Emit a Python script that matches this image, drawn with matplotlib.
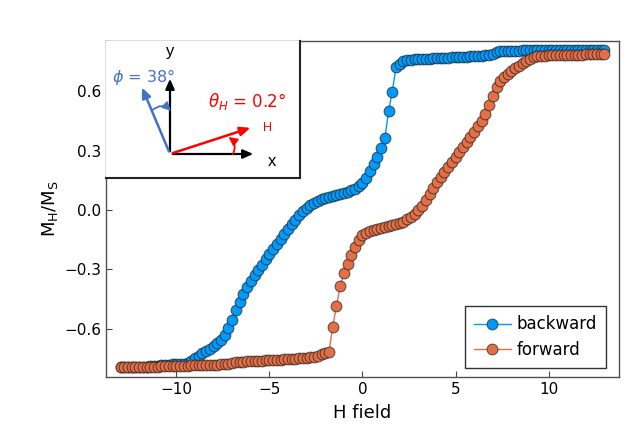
import numpy as np
import matplotlib
matplotlib.use("Agg")
import matplotlib.pyplot as plt
from matplotlib.patches import FancyArrowPatch

# field sweep, -13 .. 13 in steps of 0.2
H = np.round(np.linspace(-13, 13, 131), 1)

# backward sweep (M_H/M_s)
backward = [
    -0.795, -0.795, -0.794, -0.794, -0.793, -0.792, -0.791, -0.790, -0.789, -0.787,
    -0.786, -0.784, -0.782, -0.780, -0.779, -0.778, -0.777, -0.775, -0.770, -0.762,
    -0.748, -0.735, -0.722, -0.712, -0.700, -0.686, -0.672, -0.655, -0.630, -0.595,
    -0.555, -0.505, -0.465, -0.425, -0.390, -0.357, -0.330, -0.302, -0.275, -0.247,
    -0.220, -0.195, -0.170, -0.145, -0.120, -0.095, -0.070, -0.048, -0.025, -0.005,
    0.012, 0.026, 0.038, 0.048, 0.055, 0.061, 0.066, 0.071, 0.076, 0.081,
    0.087, 0.093, 0.100, 0.108, 0.120, 0.138, 0.163, 0.195, 0.230, 0.270,
    0.312, 0.362, 0.500, 0.598, 0.722, 0.735, 0.750, 0.757, 0.760, 0.761,
    0.762, 0.763, 0.764, 0.765, 0.766, 0.767, 0.768, 0.769, 0.770, 0.771,
    0.772, 0.773, 0.774, 0.775, 0.776, 0.777, 0.778, 0.779, 0.781, 0.783,
    0.787, 0.797, 0.801, 0.803, 0.804, 0.805, 0.805, 0.805, 0.806, 0.806,
    0.806, 0.806, 0.807, 0.807, 0.807, 0.807, 0.808, 0.808, 0.808, 0.808,
    0.808, 0.809, 0.809, 0.809, 0.809, 0.809, 0.810, 0.810, 0.810, 0.810,
    0.810,
]

# forward sweep (M_H/M_s)
forward = [
    -0.795, -0.795, -0.794, -0.794, -0.793, -0.793, -0.792, -0.792, -0.791, -0.790,
    -0.790, -0.789, -0.789, -0.788, -0.788, -0.787, -0.786, -0.786, -0.785, -0.784,
    -0.784, -0.783, -0.783, -0.782, -0.781, -0.781, -0.780, -0.779, -0.778, -0.775,
    -0.770, -0.767, -0.766, -0.765, -0.764, -0.763, -0.762, -0.761, -0.760, -0.759,
    -0.758, -0.757, -0.756, -0.755, -0.754, -0.753, -0.752, -0.751, -0.749, -0.747,
    -0.745, -0.743, -0.740, -0.735, -0.728, -0.722, -0.716, -0.590, -0.485, -0.385,
    -0.320, -0.272, -0.228, -0.185, -0.150, -0.128, -0.117, -0.108, -0.100, -0.095,
    -0.090, -0.086, -0.082, -0.077, -0.072, -0.066, -0.058, -0.046, -0.033, -0.018,
    -0.002, 0.022, 0.050, 0.080, 0.110, 0.140, 0.168, 0.192, 0.218, 0.243,
    0.270, 0.295, 0.318, 0.343, 0.370, 0.395, 0.423, 0.452, 0.485, 0.530,
    0.575, 0.620, 0.650, 0.672, 0.688, 0.703, 0.715, 0.728, 0.740, 0.752,
    0.763, 0.772, 0.777, 0.779, 0.780, 0.781, 0.781, 0.782, 0.782, 0.783,
    0.783, 0.784, 0.784, 0.785, 0.785, 0.786, 0.786, 0.787, 0.787, 0.788,
    0.788,
]

xticks = [-10, -5, 0, 5, 10]
yticks = [-0.6, -0.3, 0.0, 0.3, 0.6]

blue = "#009AFA"
orange = "#E36F47"

W, Ht = 630, 429
fig = plt.figure(figsize=(W / 100, Ht / 100), dpi=100)
L, R, T, B = 106, 619, 40.7, 377
ax = fig.add_axes([L / W, 1 - B / Ht, (R - L) / W, (B - T) / Ht])

for y, c, lab in ((backward, blue, "backward"), (forward, orange, "forward")):
    ax.plot(H, y, color=c, lw=1, marker="o", ms=7.8, mfc=c,
            mec=(0.1, 0.1, 0.1, 0.7), mew=0.7, label=lab)

ax.set_xlim(-13.78, 13.78)
ax.set_ylim(-0.843, 0.855)
ax.set_xticks(xticks)
ax.set_yticks(yticks)
ax.set_yticklabels([f"{v:.1f}".replace("-", "\u2212") for v in yticks])
ax.tick_params(direction="in", length=4, width=0.8, labelsize=11, color="#444444")
for s in ax.spines.values():
    s.set_color("#505050")
    s.set_linewidth(1)
ax.set_xlabel("H field", fontsize=13, labelpad=5)
ax.set_ylabel(r"M$_\mathrm{H}$/M$_\mathrm{S}$", fontsize=13, labelpad=3)

leg = ax.legend(loc="lower right", bbox_to_anchor=(1 - 13 / (R - L), 9 / (B - T)),
                borderaxespad=0, fontsize=12, frameon=True, fancybox=False,
                handlelength=2.2, handletextpad=0.35, labelspacing=0.45,
                borderpad=0.55)
leg.get_frame().set_edgecolor("black")
leg.get_frame().set_linewidth(1)

# inset sketch of the geometry, drawn in its own pixel coordinates (y down)
iL, iR, iT, iB = 106, 300, 40.7, 178
ins = fig.add_axes([iL / W, 1 - iB / Ht, (iR - iL) / W, (iB - iT) / Ht])
ins.set_xlim(iL, iR)
ins.set_ylim(iB, iT)
ins.set_xticks([])
ins.set_yticks([])
ins.spines["top"].set_visible(False)
ins.spines["left"].set_visible(False)
for s in ("bottom", "right"):
    ins.spines[s].set_color("#222222")
    ins.spines[s].set_linewidth(1.5)

o = (170, 154)
kw = dict(arrowstyle="-|>,head_length=0.5,head_width=0.22", mutation_scale=12)
ins.add_patch(FancyArrowPatch(o, (170, 76), color="black", lw=1.6, **kw))
ins.add_patch(FancyArrowPatch(o, (256, 154), color="black", lw=1.6, **kw))
ins.add_patch(FancyArrowPatch(o, (141, 85), color="#4472C4", lw=1.8, **kw))
ins.add_patch(FancyArrowPatch(o, (253, 127), color="#FF0000", lw=1.8, **kw))

akw = dict(lw=1.3, shrinkA=0, shrinkB=0, mutation_scale=10,
           arrowstyle="-|>,head_length=0.5,head_width=0.25")
ins.add_patch(FancyArrowPatch((152.5, 110), (171, 111), color="#4472C4",
                              connectionstyle="arc3,rad=-0.45", **akw))
ins.add_patch(FancyArrowPatch((233, 154), (228.5, 137), color="#FF0000",
                              connectionstyle="arc3,rad=0.4", **akw))

ins.text(170, 52, "y", fontsize=12, ha="center", va="center", family="Liberation Sans")
ins.text(272, 162, "x", fontsize=12, ha="center", va="center", family="Liberation Sans")
ins.text(112, 77, r"$\phi$ = 38°", fontsize=11.5, color="#4472C4", ha="left", va="center")
ins.text(208, 101, r"$\theta_H$ = 0.2°", fontsize=12, color="#FF0000", ha="left", va="center")
ins.text(267, 128, "H", fontsize=9, color="#FF0000", ha="center", va="center",
         family="Liberation Sans")

fig.savefig("out.png", dpi=100)
